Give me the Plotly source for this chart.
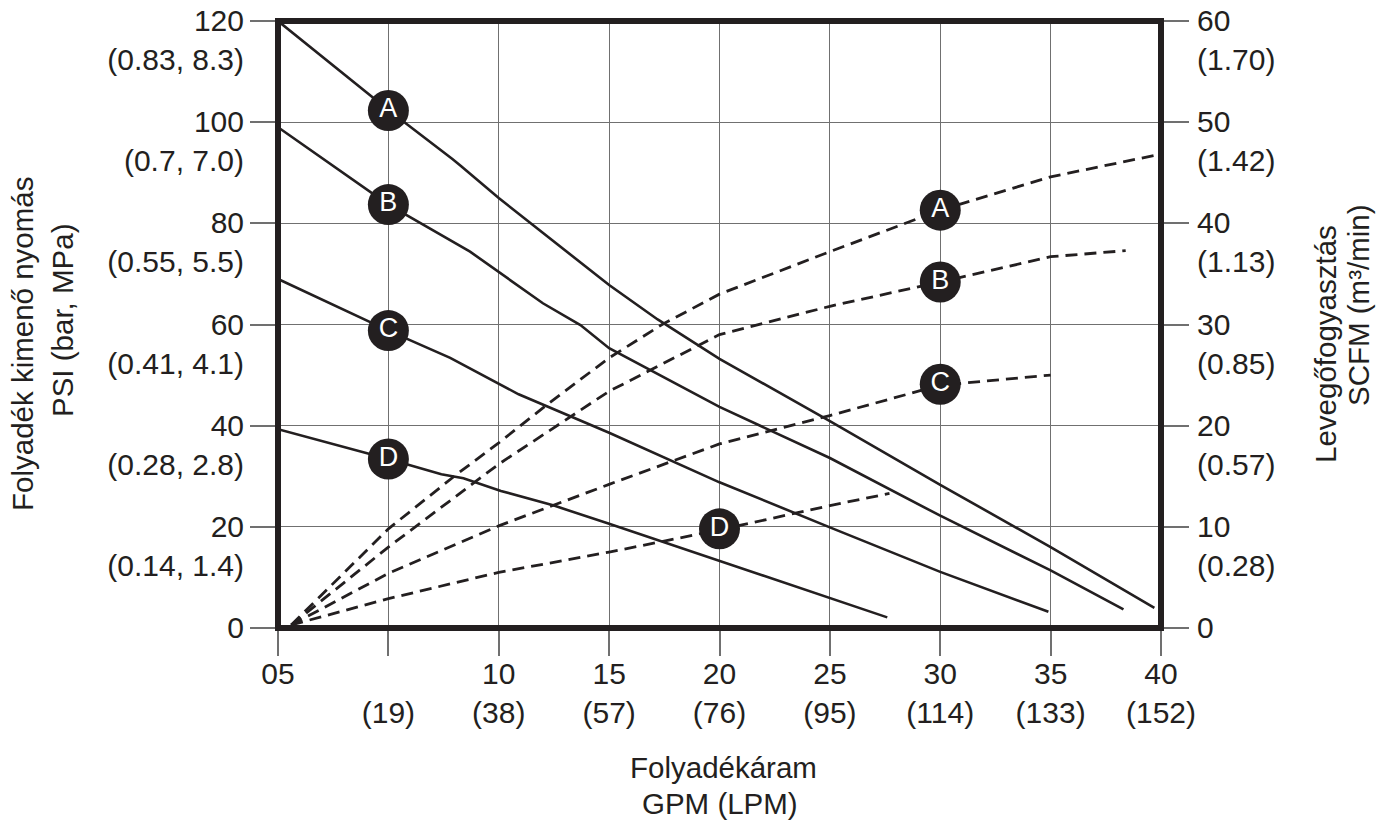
import plotly.graph_objects as go

# ---------------- data ----------------
# Fluid outlet pressure (psi) vs fluid flow (GPM) – solid curves
press_A_x = [0, 5, 7.9, 8.3, 10, 13.4, 15, 17.2, 20, 25, 30, 35, 39.7]
press_A_y = [120, 102.4, 92.7, 91.3, 85, 73.3, 67.8, 61, 53.2, 40.9, 28.3, 16, 4]
press_B_x = [0, 5, 8.7, 10, 12, 13.7, 15, 20, 25, 30, 35, 38.3]
press_B_y = [99, 83.7, 74.4, 70.4, 64.2, 59.9, 55.3, 43.7, 33.6, 22.2, 11.4, 3.7]
press_C_x = [0, 5, 7.8, 10.9, 15, 20, 25, 30, 34.9]
press_C_y = [69, 58.8, 53.4, 46.2, 38.6, 28.8, 19.9, 11.1, 3.2]
press_D_x = [0, 5, 7.4, 8.4, 10.1, 12.5, 15, 20, 25, 27.6]
press_D_y = [39.3, 33.4, 30.4, 29.6, 27.1, 24.2, 20.6, 13.2, 5.8, 2.1]

# Air consumption (SCFM) vs fluid flow (GPM) – dashed curves
air_A_x = [0.6, 5, 8.1, 10, 12.2, 15, 17.4, 20, 25, 30, 35, 39.9]
air_A_y = [0.3, 9.8, 15.2, 18.3, 22.1, 26.7, 30.0, 33.0, 37.2, 41.3, 44.6, 46.8]
air_B_x = [0.6, 5, 10, 12.7, 15, 20, 25, 30, 35, 38.4]
air_B_y = [0.3, 8.0, 16.2, 20.1, 23.4, 29.0, 31.8, 34.2, 36.7, 37.3]
air_C_x = [0.6, 5, 10, 15, 20, 25, 30, 35]
air_C_y = [0.3, 5.4, 10.1, 14.2, 18.2, 21.0, 24.0, 25.0]
air_D_x = [0.6, 5, 10, 15, 20, 25, 27.7]
air_D_y = [0.3, 2.9, 5.5, 7.5, 9.7, 12.1, 13.3]

# curve label badges
press_lbl_x = [5, 5, 5, 5]
press_lbl_y = [102.3, 83.7, 58.8, 33.4]
air_lbl_x = [30, 30, 30, 20]
air_lbl_y = [41.3, 34.2, 24.1, 9.8]
lbl_text = ["A", "B", "C", "D"]

# ticks
x_tickvals = [0, 5, 10, 15, 20, 25, 30, 35, 40]
x_ticktext = ["05", "\u00a0<br>(19)", "10<br>(38)", "15<br>(57)", "20<br>(76)",
              "25<br>(95)", "30<br>(114)", "35<br>(133)", "40<br>(152)"]
yl_tickvals = [0, 20, 40, 60, 80, 100, 120]
yl_ticktext = ["0<br>\u00a0", "20<br>(0.14, 1.4)", "40<br>(0.28, 2.8)", "60<br>(0.41, 4.1)",
               "80<br>(0.55, 5.5)", "100<br>(0.7, 7.0)", "120<br>(0.83, 8.3)"]
yr_tickvals = [0, 10, 20, 30, 40, 50, 60]
yr_ticktext = ["0<br>\u00a0", "10<br>(0.28)", "20<br>(0.57)", "30<br>(0.85)",
               "40<br>(1.13)", "50<br>(1.42)", "60<br>(1.70)"]

# ---------------- styling ----------------
INK = "#231f20"
GRID = "#707070"
FONT = "Liberation Sans, Arial, sans-serif"
FS = 30
FS_T = 29.5

fig = go.Figure()

for xs, ys in [(press_A_x, press_A_y), (press_B_x, press_B_y),
               (press_C_x, press_C_y), (press_D_x, press_D_y)]:
    fig.add_trace(go.Scatter(x=xs, y=ys, mode="lines",
                             line=dict(color=INK, width=2.6),
                             yaxis="y", hoverinfo="skip"))

for xs, ys in [(air_A_x, air_A_y), (air_B_x, air_B_y),
               (air_C_x, air_C_y), (air_D_x, air_D_y)]:
    fig.add_trace(go.Scatter(x=xs, y=ys, mode="lines",
                             line=dict(color=INK, width=2.8, dash="12px,7px"),
                             yaxis="y2", hoverinfo="skip"))

badge = dict(size=41, color=INK, line=dict(width=0))
fig.add_trace(go.Scatter(x=press_lbl_x, y=press_lbl_y, mode="markers+text",
                         text=lbl_text, textposition="middle center",
                         textfont=dict(color="white", size=27, family=FONT),
                         marker=badge, yaxis="y"))
fig.add_trace(go.Scatter(x=air_lbl_x, y=air_lbl_y, mode="markers+text",
                         text=lbl_text, textposition="middle center",
                         textfont=dict(color="white", size=27, family=FONT),
                         marker=badge, yaxis="y2"))

tickfont = dict(family=FONT, size=FS, color=INK)

fig.update_layout(
    width=1387, height=823,
    margin=dict(l=278, r=226, t=21, b=195),
    paper_bgcolor="white", plot_bgcolor="white",
    showlegend=False,
    font=dict(family=FONT, size=FS, color=INK),
    xaxis=dict(range=[0, 40], tickmode="array", tickvals=x_tickvals, ticktext=x_ticktext,
               ticks="outside", ticklen=27, tickwidth=1.5, tickcolor=GRID,
               showgrid=True, gridcolor=GRID, gridwidth=1.3, zeroline=False,
               showline=False, tickfont=tickfont, ticklabelstandoff=-8,
               automargin=False, fixedrange=True),
    yaxis=dict(range=[0, 120], tickmode="array", tickvals=yl_tickvals, ticktext=yl_ticktext,
               ticks="outside", ticklen=27, tickwidth=1.5, tickcolor=GRID,
               showgrid=True, gridcolor=GRID, gridwidth=1.3, zeroline=False,
               showline=False, tickfont=tickfont, ticklabelshift=19,
               automargin=False, fixedrange=True),
    yaxis2=dict(range=[0, 60], overlaying="y", side="right", tickmode="array",
                tickvals=yr_tickvals, ticktext=yr_ticktext,
                ticks="outside", ticklen=27, tickwidth=1.5, tickcolor=GRID,
                showgrid=False, zeroline=False, showline=False, tickfont=tickfont,
                ticklabelshift=19, ticklabelstandoff=2,
                automargin=False, fixedrange=True),
    shapes=[dict(type="rect", xref="paper", yref="paper", x0=0, x1=1, y0=0, y1=1,
                 line=dict(color=INK, width=6), layer="above")],
)

ann_font = dict(family=FONT, size=FS_T, color=INK)
annotations = [
    dict(text="Folyadék kimenő nyomás", xref="paper", yref="paper", x=0, y=(628 - 344) / 607,
         xshift=-256, textangle=-90, showarrow=False, font=ann_font,
         xanchor="center", yanchor="middle"),
    dict(text="PSI (bar, MPa)", xref="paper", yref="paper", x=0, y=(628 - 321) / 607,
         xshift=-216, textangle=-90, showarrow=False, font=ann_font,
         xanchor="center", yanchor="middle"),
    dict(text="Levegőfogyasztás", xref="paper", yref="paper", x=1, y=(628 - 344) / 607,
         xshift=164, textangle=-90, showarrow=False, font=ann_font,
         xanchor="center", yanchor="middle"),
    dict(text="SCFM (m³/min)", xref="paper", yref="paper", x=1, y=(628 - 305) / 607,
         xshift=197, textangle=-90, showarrow=False, font=ann_font,
         xanchor="center", yanchor="middle"),
    dict(text="Folyadékáram", xref="paper", yref="paper", x=0.504, y=(628 - 767) / 607,
         showarrow=False, font=ann_font, xanchor="center", yanchor="middle"),
    dict(text="GPM (LPM)", xref="paper", yref="paper", x=0.5, y=(628 - 803) / 607,
         showarrow=False, font=ann_font, xanchor="center", yanchor="middle"),
]
fig.update_layout(annotations=annotations)

fig.write_html("out.html", config={"displayModeBar": False},
               post_script="document.body.style.margin='0';")
